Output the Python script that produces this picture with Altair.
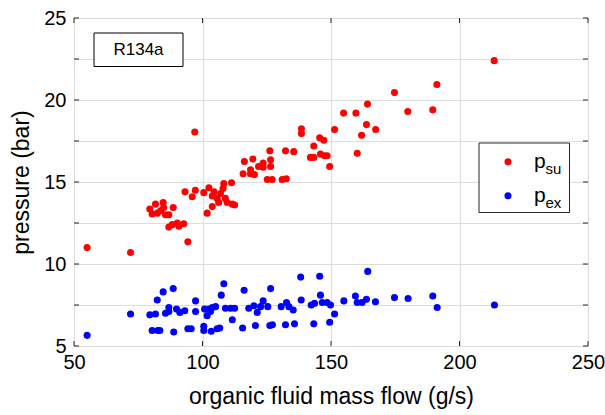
import altair as alt
import pandas as pd

# ---- data ----
mass_flow_su = [55.1, 72.0, 79.5, 80.4, 81.7, 82.4, 83.7, 84.7, 84.9, 85.6,
                86.9, 88.6, 86.9, 88.2, 90.2, 90.8, 92.7, 94.3, 93.2, 97.2,
                96.0, 97.0, 100.5, 101.8, 102.5, 103.8, 103.8, 104.5, 105.7, 106.3,
                107.0, 108.0, 108.3, 108.9, 109.6, 111.3, 111.6, 112.5, 115.8, 116.3,
                118.7, 118.7, 119.6, 120.2, 121.8, 123.6, 123.6, 126.5, 126.5, 126.2,
                125.2, 127.1, 131.0, 132.6, 132.3, 135.5, 138.5, 138.5, 143.3, 145.6,
                147.2, 142.0, 143.3, 145.9, 147.5, 148.5, 149.5, 151.4, 154.9, 159.7,
                160.2, 161.9, 163.8, 164.2, 167.4, 174.7, 179.9, 189.6, 191.2, 213.5]
p_su = [11.0, 10.7, 13.35, 13.05, 13.65, 13.1, 13.25, 13.75, 13.45, 13.0,
        13.0, 13.45, 12.25, 12.4, 12.5, 12.3, 12.45, 11.35, 14.4, 14.5,
        14.1, 18.05, 14.35, 13.1, 14.65, 14.15, 13.5, 14.4, 14.0, 13.75,
        14.3, 14.6, 14.9, 14.0, 13.75, 14.95, 13.65, 13.6, 15.5, 16.25,
        15.5, 15.75, 16.4, 15.45, 15.95, 16.15, 15.9, 16.35, 15.95, 16.9,
        15.15, 15.15, 15.15, 15.2, 16.9, 16.85, 18.25, 17.95, 17.2, 17.7,
        17.55, 16.5, 16.5, 16.7, 16.6, 16.6, 15.95, 18.2, 19.2, 19.2,
        16.75, 17.85, 18.5, 19.75, 18.2, 20.45, 19.3, 19.4, 20.95, 22.4]

mass_flow_ex = [55.1, 72.0, 79.5, 81.7, 80.4, 82.6, 83.4, 82.4, 84.7, 88.6,
                88.8, 85.6, 86.9, 86.9, 89.9, 91.2, 93.1, 94.3, 95.6, 97.3,
                97.3, 100.5, 100.5, 103.4, 100.8, 102.5, 103.8, 105.1, 101.8, 103.1,
                106.7, 107.3, 108.3, 108.9, 110.9, 112.5, 111.6, 115.6, 116.2, 118.0,
                120.0, 121.3, 122.6, 123.6, 125.4, 120.6, 126.2, 127.2, 126.5, 130.6,
                132.7, 133.6, 135.3, 132.3, 135.8, 138.2, 138.4, 142.3, 143.6, 143.3,
                145.6, 145.9, 146.6, 148.5, 149.8, 149.5, 151.4, 155.0, 159.5, 160.2,
                162.1, 163.8, 164.3, 167.3, 174.7, 180.0, 189.6, 191.3, 213.6, 105.7]
p_ex = [5.65, 6.95, 6.9, 6.95, 5.95, 5.95, 5.95, 7.8, 8.3, 8.5,
        5.85, 7.0, 7.1, 7.35, 7.25, 7.05, 7.15, 6.05, 6.05, 7.75,
        7.1, 6.2, 5.95, 5.9, 7.25, 7.25, 7.35, 7.4, 6.85, 7.1,
        6.1, 8.1, 8.8, 7.3, 7.3, 7.3, 6.6, 6.1, 8.4, 7.3,
        7.45, 7.05, 7.4, 7.75, 7.4, 6.25, 6.25, 6.3, 8.5, 7.4,
        7.65, 7.4, 7.2, 6.3, 6.35, 9.2, 7.8, 7.5, 7.6, 6.35,
        9.25, 8.1, 7.65, 7.65, 7.5, 6.45, 6.95, 7.75, 8.05, 7.65,
        7.65, 7.85, 9.55, 7.7, 7.95, 7.9, 8.05, 7.35, 7.5, 6.05]

series_names = ["p_su", "p_ex"]
series_colors = ["#ff0000", "#0000ff"]
x_ticks = [50, 100, 150, 200, 250]
y_ticks = [5, 7.5, 10, 12.5, 15, 17.5, 20, 22.5, 25]
annotation = ["R134a"]

df = pd.concat([
    pd.DataFrame({"flow": mass_flow_su, "p": p_su, "series": series_names[0]}),
    pd.DataFrame({"flow": mass_flow_ex, "p": p_ex, "series": series_names[1]}),
], ignore_index=True)

FONT = "Liberation Sans"
W, H = 514, 328

xs = alt.Scale(domain=[50, 250], nice=False, zero=False)
ys = alt.Scale(domain=[5, 25], nice=False, zero=False)

x_axis = alt.Axis(values=x_ticks, title="organic fluid mass flow (g/s)", grid=True,
                  ticks=False, domain=False, labelFlush=False, labelOverlap=False,
                  labelPadding=6, titlePadding=13, labelFontSize=20, titleFontSize=23,
                  titleFontWeight="normal")
y_axis = alt.Axis(values=y_ticks, title="pressure (bar)", grid=True,
                  ticks=False, domain=False, labelFlush=False, labelOverlap=False,
                  labelExpr="datum.value % 5 == 0 ? datum.label : ''",
                  labelPadding=8, titlePadding=10, labelFontSize=20, titleFontSize=23,
                  titleFontWeight="normal")

points = alt.Chart(df).mark_circle(size=50, opacity=1).encode(
    x=alt.X("flow:Q", scale=xs, axis=x_axis),
    y=alt.Y("p:Q", scale=ys, axis=y_axis),
    color=alt.Color("series:N", scale=alt.Scale(domain=series_names, range=series_colors), legend=None),
)

# inward ticks like the original frame
ytick_df = pd.DataFrame({"v": y_ticks})
xtick_df = pd.DataFrame({"v": x_ticks})
tick_col = "#262626"
ytl = alt.Chart(ytick_df).mark_rule(color=tick_col).encode(
    y=alt.Y("v:Q", scale=ys), x=alt.value(0), x2=alt.value(5))
ytr = alt.Chart(ytick_df).mark_rule(color=tick_col).encode(
    y=alt.Y("v:Q", scale=ys), x=alt.value(W - 5), x2=alt.value(W))
xtb = alt.Chart(xtick_df).mark_rule(color=tick_col).encode(
    x=alt.X("v:Q", scale=xs), y=alt.value(H - 5), y2=alt.value(H))
xtt = alt.Chart(xtick_df).mark_rule(color=tick_col).encode(
    x=alt.X("v:Q", scale=xs), y=alt.value(0), y2=alt.value(5))

# R134a text box
one = pd.DataFrame({"t": annotation})
rbox = alt.Chart(one).mark_rect(fill="white", stroke="#000000", strokeWidth=1).encode(
    x=alt.value(20), x2=alt.value(109), y=alt.value(15), y2=alt.value(48.5))
rtext = alt.Chart(one).mark_text(font=FONT, fontSize=17, color="black",
                                 align="center", baseline="middle").encode(
    text="t:N", x=alt.value(64.5), y=alt.value(31.5))

# manual legend with subscripts
lbox = alt.Chart(one).mark_rect(fill="white", stroke="#262626", strokeWidth=1).encode(
    x=alt.value(405), x2=alt.value(495.5), y=alt.value(125), y2=alt.value(194.5))
leg_items = []
for name, col, cy, sub in [("p_su", series_colors[0], 143.8, "su"),
                           ("p_ex", series_colors[1], 177.8, "ex")]:
    d = pd.DataFrame({"main": ["p"], "sub": [sub]})
    leg_items.append(alt.Chart(d).mark_circle(size=50, opacity=1, color=col).encode(
        x=alt.value(434), y=alt.value(cy)))
    leg_items.append(alt.Chart(d).mark_text(font=FONT, fontSize=21, color="black",
                                            align="left", baseline="alphabetic").encode(
        text="main:N", x=alt.value(460), y=alt.value(cy + 6.2)))
    leg_items.append(alt.Chart(d).mark_text(font=FONT, fontSize=15, color="black",
                                            align="left", baseline="alphabetic").encode(
        text="sub:N", x=alt.value(471.5), y=alt.value(cy + 12.5)))

chart = alt.layer(points, ytl, ytr, xtb, xtt, rbox, rtext, lbox, *leg_items).properties(
    width=W, height=H,
    autosize=alt.AutoSizeParams(type="none"),
    padding={"left": 74, "top": 18, "right": 17, "bottom": 69},
).configure_view(
    stroke="#262626", strokeWidth=1
).configure_axis(
    labelFont=FONT, titleFont=FONT, labelColor="#262626", titleColor="#262626",
    titleFontWeight="normal", gridColor="#dfdfdf", gridWidth=1
).configure(background="white")

chart.save("out.html", embed_options={"renderer": "svg", "actions": False})
